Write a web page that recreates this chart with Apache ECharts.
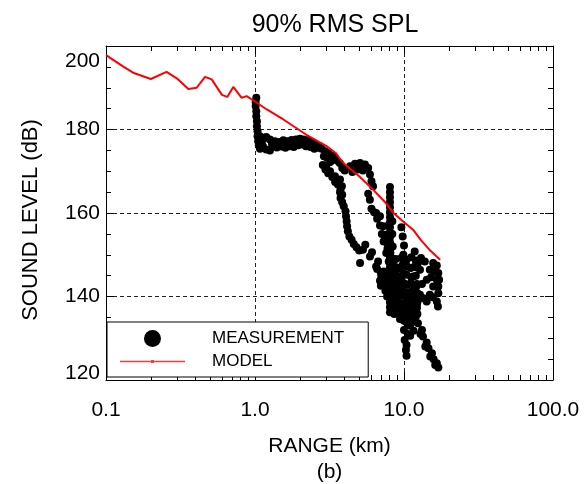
<!DOCTYPE html>
<html>
<head>
<meta charset="utf-8">
<script src="https://cdn.jsdelivr.net/npm/echarts@6/dist/echarts.min.js"></script>
<style>
  html, body { margin: 0; padding: 0; background: #fff; }
  #chart { width: 588px; height: 484px; }
</style>
</head>
<body>
<div id="chart"></div>
<script>
var FONT = 'Liberation Sans, Arial, Helvetica, sans-serif';

// range tick labels (km), level ticks (dB)
var rangeLabels = ['0.1', '1.0', '10.0', '100.0'];
var levelTicks = [120, 140, 160, 180, 200];

// model: [range km, level dB]
var model = [
  [0.1, 197.8], [0.13, 195.1], [0.152, 193.6], [0.2, 192.1], [0.255, 193.8],
  [0.3, 192.2], [0.357, 189.7], [0.406, 190.0], [0.462, 192.6], [0.512, 192.0],
  [0.6, 188.3], [0.652, 187.8], [0.715, 190.2], [0.814, 187.6], [0.879, 188.0],
  [1.0, 186.7], [1.2, 184.8], [1.55, 182.4], [2.2, 178.8], [3.0, 176.1],
  [3.5, 174.3], [3.75, 172.8], [4.1, 171.3], [5.0, 168.8], [6.2, 165.6],
  [7.5, 162.5], [8.5, 160.0], [10, 157.8], [11.5, 156.0], [13, 153.5],
  [15, 151.0], [17.5, 148.8]
];

// measurement: [range km, level dB]
var measurement = [
  // column at 1 km
  [1.02, 187.6], [1.01, 186.6], [1.01, 185.6], [1.02, 184.4], [1.02, 183.2], [1.03, 182.0],
  [1.03, 180.8], [1.04, 179.6], [1.04, 178.4], [1.05, 177.2], [1.06, 176.2],
  [1.08, 178.4], [1.13, 177.6], [1.19, 178.2], [1.26, 177.6], [1.13, 176.0], [1.08, 175.4],
  [1.19, 175.2], [1.26, 175.0], [1.33, 176.4],
  // plateau
  [1.36, 177.2], [1.45, 177.0], [1.55, 177.4], [1.65, 177.2], [1.76, 177.5], [1.88, 177.6],
  [2.0, 177.8], [2.12, 177.6], [2.25, 177.4], [2.4, 177.0],
  [1.40, 175.7], [1.50, 175.9], [1.60, 175.6], [1.71, 176.0], [1.82, 175.8], [1.95, 176.2],
  [2.08, 176.4], [2.2, 176.0], [2.35, 175.8], [2.5, 175.4], [2.62, 175.6],
  [1.3, 176.6], [1.57, 176.5], [1.9, 176.9], [2.3, 176.6], [2.55, 176.4], [2.7, 176.0],
  // along the model
  [2.8, 175.4], [2.95, 174.8], [3.1, 174.4], [3.25, 173.8], [3.4, 173.4], [3.55, 172.6],
  [3.7, 172.0], [3.85, 170.8], [4.0, 170.2], [2.9, 173.6], [3.05, 173.2], [3.2, 172.2],
  // lower branch
  [2.85, 171.5], [3.0, 171.2], [2.97, 170.4], [3.19, 170.0], [3.1, 169.5], [3.3, 168.6],
  [3.44, 168.8], [3.45, 167.4], [3.6, 166.8], [3.72, 168.0], [3.83, 166.4], [3.75, 165.6],
  [3.85, 164.4], [3.72, 165.0], [3.75, 163.6], [3.85, 162.6], [3.94, 161.6], [4.05, 160.4],
  [4.08, 159.2], [4.12, 158.0], [4.15, 156.8], [4.2, 155.6], [4.3, 154.4], [4.45, 153.6],
  [4.6, 152.6], [4.8, 151.8], [5.0, 151.0], [5.07, 148.0],
  [5.3, 151.2], [5.91, 149.6], [6.5, 147.2], [7.05, 144.8], [7.6, 143.2], [8.2, 140.8],
  [8.9, 138.4], [9.4, 136.8],
  [5.5, 152.4], [6.1, 150.6], [6.7, 148.4], [7.3, 146.0], [7.8, 144.6], [8.4, 142.4], [9.0, 140.2],
  // hump
  [4.34, 171.2], [4.69, 171.8], [5.07, 172.0], [5.47, 171.6], [5.75, 170.8], [5.91, 169.2],
  [6.05, 167.6], [6.2, 166.4], [4.5, 169.8], [4.9, 170.4], [5.3, 170.2],
  // right branch
  [5.75, 164.6], [5.9, 163.2], [6.05, 161.0], [6.3, 160.2], [6.6, 158.6], [6.9, 157.0],
  [7.1, 155.0], [7.3, 153.2], [7.6, 150.4], [7.9, 148.4], [8.2, 146.4], [8.5, 144.6],
  [8.8, 142.8], [9.1, 140.6],
  [6.5, 160.0], [6.9, 159.2], [7.25, 156.8], [7.5, 154.8], [7.8, 152.6], [8.1, 150.4],
  [8.4, 148.2], [8.7, 146.0],
  // spike near 8 km
  [8.05, 166.2], [8.05, 165.0], [8.05, 163.8], [8.05, 162.6], [8.05, 161.4], [8.05, 160.2],
  [8.05, 159.0], [8.05, 157.8], [8.05, 156.6], [8.05, 155.4], [8.05, 154.2], [8.05, 153.0],
  [8.05, 151.8], [8.05, 150.6], [8.05, 149.4], [8.05, 148.2], [8.05, 147.0], [8.05, 145.8],
  [8.05, 144.6], [8.05, 143.4], [8.05, 142.2], [8.05, 141.0], [8.05, 139.8], [8.05, 138.6],
  [8.05, 137.4], [8.05, 136.2],
  [8.35, 158.0], [8.35, 155.0], [8.4, 152.0], [8.5, 149.0], [8.55, 146.5], [8.7, 143.5],
  [7.85, 157.0], [7.8, 154.0], [7.75, 151.5],
  // left edge of the dense mass
  [6.6, 146.6], [7.0, 145.6], [7.4, 144.0], [7.0, 142.6], [7.5, 141.4], [7.7, 140.0], [6.9, 143.8],
  // column near 10 km
  [9.6, 156.6], [9.8, 154.4], [10.0, 152.2], [9.9, 150.0], [9.8, 147.6], [10.1, 145.4],
  [10.0, 143.2], [9.7, 141.4],
  // between spike and right cluster
  [8.8, 149.0], [9.6, 149.2], [10.4, 148.8], [11.2, 149.4], [12.0, 148.6],
  [8.9, 147.0], [9.5, 146.6], [10.5, 147.2], [11.1, 146.8], [12.1, 147.0],
  [8.8, 145.0], [9.6, 144.8], [10.4, 145.2], [11.2, 144.6], [12.0, 145.0],
  [8.9, 143.0], [9.5, 143.4], [10.5, 142.8], [11.1, 143.2], [12.2, 143.0],
  // right cluster
  [11.8, 150.8], [13.8, 148.4], [15.7, 148.0], [16.6, 147.4], [11.8, 147.2], [12.8, 146.4],
  [14.9, 146.4], [17.0, 145.6], [11.5, 144.8], [14.2, 144.0], [16.6, 144.0], [12.1, 142.4],
  [15.7, 142.4], [17.0, 142.4], [12.8, 140.4], [14.9, 140.4], [17.0, 140.8], [11.5, 139.2],
  [14.2, 138.8], [16.6, 138.8], [13.2, 143.0], [13.0, 149.2], [12.4, 148.0], [15.2, 144.6],
  [16.0, 146.0], [17.2, 144.0], [13.5, 139.6], [15.6, 139.8], [12.2, 137.8], [16.9, 137.6],
  // dense block 8-12 km
  [8.3, 141.6], [9.0, 141.2], [9.7, 141.8], [10.6, 141.0], [11.4, 141.4], [12.3, 140.8],
  [8.4, 140.0], [9.1, 139.8], [9.8, 140.2], [10.5, 139.6], [11.3, 140.0], [12.2, 139.4],
  [8.3, 138.6], [9.0, 138.9], [9.7, 138.4], [10.6, 138.8], [11.4, 138.2], [12.3, 138.6],
  [8.5, 137.2], [9.2, 137.4], [9.8, 137.0], [10.5, 137.4], [11.3, 136.8], [12.2, 137.2],
  [8.6, 135.8], [9.3, 136.0], [9.7, 135.6], [10.6, 135.9], [11.4, 135.4], [12.3, 135.8],
  [9.4, 134.6], [10.0, 134.2], [10.7, 134.6], [11.5, 134.0],
  // left tail
  [9.9, 134.4], [10.5, 133.6], [10.0, 132.0], [10.6, 131.0], [10.1, 129.6], [10.4, 128.4],
  [10.3, 127.2], [10.4, 125.8],
  // right tail
  [11.2, 136.4], [12.0, 135.2], [12.4, 133.6], [13.2, 132.0], [13.4, 130.4], [14.2, 129.0],
  [14.6, 127.6], [15.4, 126.4], [15.8, 125.0], [16.6, 124.0], [17.0, 123.0], [11.6, 134.0],
  [12.9, 131.0], [13.9, 128.0], [15.0, 125.6], [16.2, 123.6], [11.0, 133.0], [11.6, 131.8],
  [11.0, 130.6]
];

var chart = echarts.init(document.getElementById('chart'));

var tickStyle = { color: '#000', width: 1 };
var gridDash = { color: '#222', width: 1, type: [4, 3] };

function rangeLabel(v) {
  return rangeLabels[Math.round(Math.log10(v)) + 1];
}

var option = {
  backgroundColor: '#fff',
  animation: false,
  title: {
    text: '90% RMS SPL',
    left: 330,
    top: 8,
    textAlign: 'center',
    textStyle: { fontFamily: FONT, fontSize: 25, fontWeight: 'normal', color: '#000' }
  },
  grid: { left: 106, right: 35, top: 46, bottom: 104, containLabel: false, outerBoundsMode: 'none' },
  legend: {
    orient: 'vertical',
    left: 107,
    top: 322,
    padding: [8, 24, 7, 13],
    itemWidth: 65,
    itemHeight: 17,
    itemGap: 6,
    backgroundColor: '#fff',
    borderColor: '#000',
    borderWidth: 1,
    borderRadius: 0,
    selectedMode: false,
    textStyle: { fontFamily: FONT, fontSize: 17, color: '#000', padding: [0, 0, 0, 22] },
    data: [
      { name: 'MEASUREMENT', icon: 'circle', itemStyle: { color: '#000', opacity: 1 } },
      {
        name: 'MODEL',
        icon: 'path://M0,0.75H31V0H34V3H31V2.25H0ZM34,0.75H65V2.25H34Z',
        itemStyle: { color: '#ff3b3b', borderColor: '#ff3b3b', borderWidth: 0, opacity: 1 }
      }
    ]
  },
  xAxis: [
    {
      type: 'log', logBase: 10, min: 0.1, max: 100, position: 'bottom',
      name: 'RANGE (km)\n(b)', nameLocation: 'middle', nameGap: 53,
      nameTextStyle: { fontFamily: FONT, fontSize: 21, color: '#000', lineHeight: 26 },
      axisLine: { show: true, lineStyle: tickStyle },
      axisTick: { show: true, inside: true, length: 8, lineStyle: tickStyle },
      minorTick: { show: true, splitNumber: 9, length: 5, lineStyle: tickStyle },
      axisLabel: { formatter: rangeLabel, margin: 20, fontFamily: FONT, fontSize: 21, color: '#000' },
      splitLine: { show: true, lineStyle: gridDash }
    },
    {
      type: 'log', logBase: 10, min: 0.1, max: 100, position: 'top',
      axisLine: { show: true, lineStyle: tickStyle },
      axisTick: { show: true, inside: true, length: 8, lineStyle: tickStyle },
      minorTick: { show: true, splitNumber: 9, length: 5, lineStyle: tickStyle },
      axisLabel: { show: false },
      splitLine: { show: false }
    }
  ],
  yAxis: [
    {
      type: 'value', min: 120, max: 200, interval: 20, position: 'left',
      name: 'SOUND LEVEL (dB)', nameLocation: 'middle', nameGap: 64,
      nameTextStyle: { fontFamily: FONT, fontSize: 22, color: '#000', padding: [0, 14, 0, 0] },
      axisLine: { show: true, lineStyle: tickStyle },
      axisTick: { show: true, inside: true, length: 8, lineStyle: tickStyle },
      minorTick: { show: true, splitNumber: 4, length: 5, lineStyle: tickStyle },
      axisLabel: {
        margin: 6, fontFamily: FONT, fontSize: 21, color: '#000',
        formatter: function (v) {
          if (v === levelTicks[levelTicks.length - 1]) return '{top|' + v + '}';
          if (v === levelTicks[0]) return '{bot|' + v + '}';
          return String(v);
        },
        rich: {
          top: { fontFamily: FONT, fontSize: 21, color: '#000', padding: [31, 0, 0, 0] },
          bot: { fontFamily: FONT, fontSize: 21, color: '#000', padding: [0, 0, 13, 0] }
        }
      },
      splitLine: { show: true, lineStyle: gridDash }
    },
    {
      type: 'value', min: 120, max: 200, interval: 20, position: 'right',
      axisLine: { show: true, lineStyle: tickStyle },
      axisTick: { show: true, inside: true, length: 8, lineStyle: tickStyle },
      minorTick: { show: true, splitNumber: 4, length: 5, lineStyle: tickStyle },
      axisLabel: { show: false },
      splitLine: { show: false }
    }
  ],
  series: [
    {
      name: 'MEASUREMENT',
      type: 'scatter',
      data: measurement,
      symbol: 'circle',
      symbolSize: 8,
      itemStyle: { color: '#000', opacity: 1 },
      z: 2
    },
    {
      name: 'MODEL',
      type: 'line',
      data: model,
      showSymbol: false,
      symbol: 'none',
      lineStyle: { color: '#ff0000', width: 2 },
      itemStyle: { color: '#ff0000' },
      z: 3
    }
  ]
};

chart.setOption(option);
</script>
</body>
</html>
